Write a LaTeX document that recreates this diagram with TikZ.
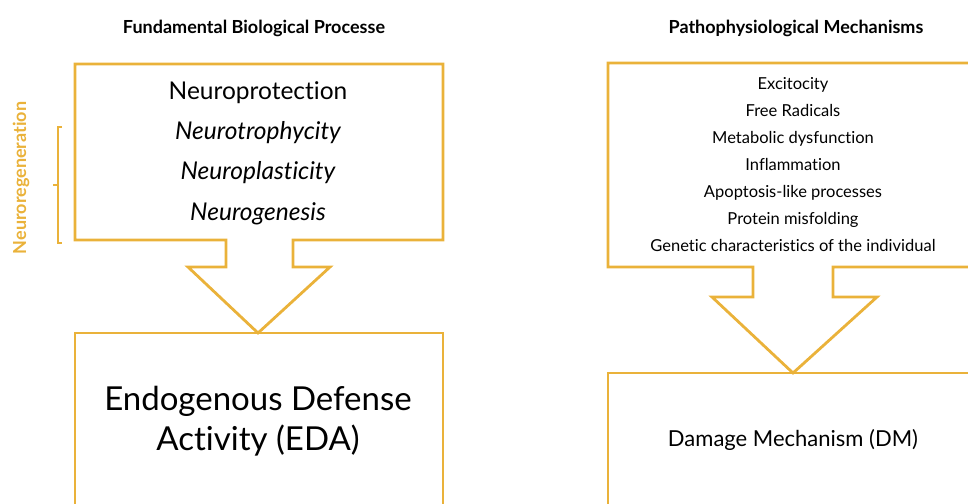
\documentclass[tikz,border=0pt]{standalone}
\usepackage{fontspec}
\setmainfont{Lato}[Ligatures=NoCommon]
\definecolor{gold}{RGB}{234,178,58}
\begin{document}
\begin{tikzpicture}[x=1pt,y=-1pt]
	\tikzstyle{every node}=[inner sep=0pt,anchor=base]
	\tikzstyle{frame}=[gold,line width=2.8pt,line join=miter]
	\tikzstyle{head}=[font=\fontsize{18}{21}\selectfont\bfseries]
	\tikzstyle{item}=[font=\fontsize{24.5}{28}\selectfont]
	\tikzstyle{small}=[font=\fontsize{16.5}{19}\selectfont]
	\useasboundingbox (0,0) rectangle (968,503);
	\clip (0,0) rectangle (968,503);
	% titles
	\node[head] (lhead) at (254,34) {Fundamental Biological Processe};
	\node[head] (rhead) at (796,34) {Pathophysiological Mechanisms};
	% left column
	\draw[frame] (226,240)--(75,240)--(75,64)--(443,64)--(443,240)--(293,240)--(293,267)--(330,267)--(258,333)--(188,267)--(226,267)--cycle;
	\draw[frame] (75,510)--(75,333)--(443,333)--(443,510);
	\node[item] (prot) at (258,99) {Neuroprotection};
	\node[item] (troph) at (258,139) {\itshape Neurotrophycity};
	\node[item] (plast) at (258,179) {\itshape Neuroplasticity};
	\node[item] (genes) at (258,220) {\itshape Neurogenesis};
	\draw[gold,line width=1.2pt] (62,127)--(58,127)--(58,243)--(62,243);
	\draw[gold,line width=1.2pt] (58,185)--(53,185);
	\node[font=\fontsize{18}{21}\selectfont\bfseries,gold,rotate=90,anchor=center] (regen) at (21,178) {Neuroregeneration};
	\node[font=\fontsize{33}{38}\selectfont] (eda1) at (258,410) {Endogenous Defense};
	\node[font=\fontsize{33}{38}\selectfont] (eda2) at (258,450) {Activity (EDA)};
	% right column
	\draw[frame] (980,63)--(608,63)--(608,267)--(753,267)--(753,297)--(712,297)--(793,373)--(877,297)--(833,297)--(833,267)--(980,267);
	\draw[frame] (608,510)--(608,373)--(980,373);
	\node[small] (exc) at (793,89) {Excitocity};
	\node[small] (rad) at (793,116) {Free Radicals};
	\node[small] (meta) at (793,143) {Metabolic dysfunction};
	\node[small] (infl) at (793,170) {Inflammation};
	\node[small] (apop) at (793,197) {Apoptosis-like processes};
	\node[small] (prot2) at (793,224) {Protein misfolding};
	\node[small] (gene) at (793,251) {Genetic characteristics of the individual};
	\node[font=\fontsize{22}{26}\selectfont] (dm) at (793,446) {Damage Mechanism (DM)};
\end{tikzpicture}
\end{document}
